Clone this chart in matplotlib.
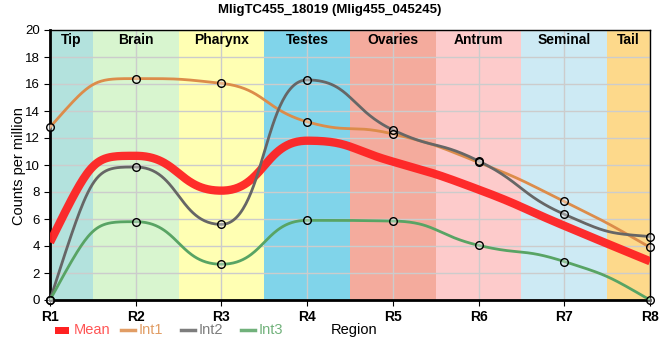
import numpy as np
import matplotlib
matplotlib.use("Agg")
from matplotlib import pyplot as plt
from matplotlib.lines import Line2D
from matplotlib.patches import Rectangle

plt.rcParams['font.family'] = ['Liberation Sans', 'DejaVu Sans']

# region data
regions = ['R1', 'R2', 'R3', 'R4', 'R5', 'R6', 'R7', 'R8']
bands = ['Tip', 'Brain', 'Pharynx', 'Testes', 'Ovaries', 'Antrum', 'Seminal', 'Tail']
band_colors = ['#b3e2dd', '#d8f5cf', '#ffffb3', '#80d4ea', '#f4ab9d',
               '#fdcbcb', '#cdeaf4', '#fdd98b']
int1 = [12.8, 16.4, 16.05, 13.2, 12.3, 10.2, 7.3, 3.9]
int2 = [0.0, 9.85, 5.6, 16.3, 12.6, 10.3, 6.35, 4.7]
int3 = [0.0, 5.8, 2.65, 5.9, 5.85, 4.05, 2.85, 0.0]
mean = [4.27, 10.68, 8.1, 11.8, 10.25, 8.18, 5.5, 2.87]
# endregion


def smooth(x, y, a=0.5, n=60):
    """Bezier curve through the points, monotone tangents, long handles."""
    x = np.asarray(x, float)
    y = np.asarray(y, float)
    h = np.diff(x)
    s = np.diff(y) / h
    m = np.zeros_like(y)
    for i in range(1, len(y) - 1):
        p = (s[i - 1] * h[i] + s[i] * h[i - 1]) / (h[i - 1] + h[i])
        m[i] = (np.sign(s[i - 1]) + np.sign(s[i])) * min(abs(s[i - 1]), abs(s[i]), 0.5 * abs(p))
    m[0] = 2 * s[0] - m[1]
    m[-1] = 2 * s[-1] - m[-2]
    t = np.linspace(0, 1, n)[:, None]
    pts = []
    for i in range(len(h)):
        P0 = np.array([x[i], y[i]])
        P3 = np.array([x[i + 1], y[i + 1]])
        P1 = P0 + a * h[i] * np.array([1, m[i]])
        P2 = P3 - a * h[i] * np.array([1, m[i + 1]])
        pts.append((1 - t)**3 * P0 + 3 * t * (1 - t)**2 * P1
                   + 3 * t**2 * (1 - t) * P2 + t**3 * P3)
    pts = np.concatenate(pts)
    return pts[:, 0], pts[:, 1]


fig = plt.figure(figsize=(6.6, 3.6), dpi=100)
ax = fig.add_axes([50 / 660, 60 / 360, 600 / 660, 270 / 360])

xpos = np.arange(len(regions))
for i, (name, col) in enumerate(zip(bands, band_colors)):
    lo = max(i - 0.5, 0)
    hi = min(i + 0.5, len(regions) - 1)
    ax.axvspan(lo, hi, color=col, lw=0, zorder=0)
    ax.text((lo + hi) / 2, 19.75, name, ha='center', va='top',
            fontsize=10, fontweight='bold', zorder=5)

c_mean = '#ff2222'
c1 = '#dc8c4a'
c2 = '#666666'
c3 = '#58a464'

xs, ys = smooth(xpos, mean)
ax.plot(xs, ys, color=c_mean, lw=6, alpha=0.95, solid_capstyle='butt', zorder=3)
for vals, col in [(int1, c1), (int2, c2), (int3, c3)]:
    xs, ys = smooth(xpos, vals)
    ax.plot(xs, ys, color=col, lw=2, zorder=4)
    ax.plot(xpos, vals, 'o', ms=4.5, mfc='#ffffff', mec='none', alpha=0.35,
            zorder=5, clip_on=False)
    ax.plot(xpos, vals, 'o', ms=5.5, mfc='none', mec='black', mew=1,
            zorder=6, clip_on=False)

ax.set_xlim(0, len(regions) - 1)
ax.set_ylim(0, 20)
ax.set_xticks(xpos)
ax.set_xticklabels(regions, fontsize=10, fontweight='bold')
ax.set_yticks(np.arange(0, 21, 2))
ax.tick_params(axis='y', labelsize=9.5)
ax.tick_params(axis='both', length=4, direction='out')
ax.grid(True, color='#cccccc', lw=1)
for g in ax.get_xgridlines() + ax.get_ygridlines():
    g.set_zorder(1)
ax.spines['left'].set_linewidth(2)
ax.spines['bottom'].set_linewidth(2)
ax.spines['top'].set_linewidth(1)
ax.spines['right'].set_linewidth(1)
fig.text(19 / 660, 1 - 166 / 360, 'Counts per million', fontsize=10.5,
         rotation=90, ha='center', va='center')

fig.text(330 / 660, 350 / 360, 'MligTC455_18019 (Mlig455_045245)', fontsize=9.5,
         fontweight='bold', ha='center', va='center')

# legend row at the bottom, drawn in figure pixels
ly = 1 - 330 / 360
fig.patches.append(Rectangle((55 / 660, ly - 3.5 / 360), 14 / 660, 7 / 360,
                             transform=fig.transFigure, color=c_mean, lw=0))
fig.text(74 / 660, ly, 'Mean', color='#ff5555', fontsize=10.5, va='center')
leg = [('Int1', c1, 121, 139), ('Int2', c2, 181, 199), ('Int3', c3, 241, 259)]
for name, col, lx, tx in leg:
    fig.add_artist(Line2D([lx / 660, (lx + 14) / 660], [ly, ly], color=col, lw=2.5,
                          transform=fig.transFigure, alpha=0.85))
    fig.text(tx / 660, ly, name, color=col, alpha=0.85, fontsize=10.5, va='center')
fig.text(331 / 660, ly, 'Region', fontsize=10.5, va='center')

fig.savefig('out.png', dpi=100)
